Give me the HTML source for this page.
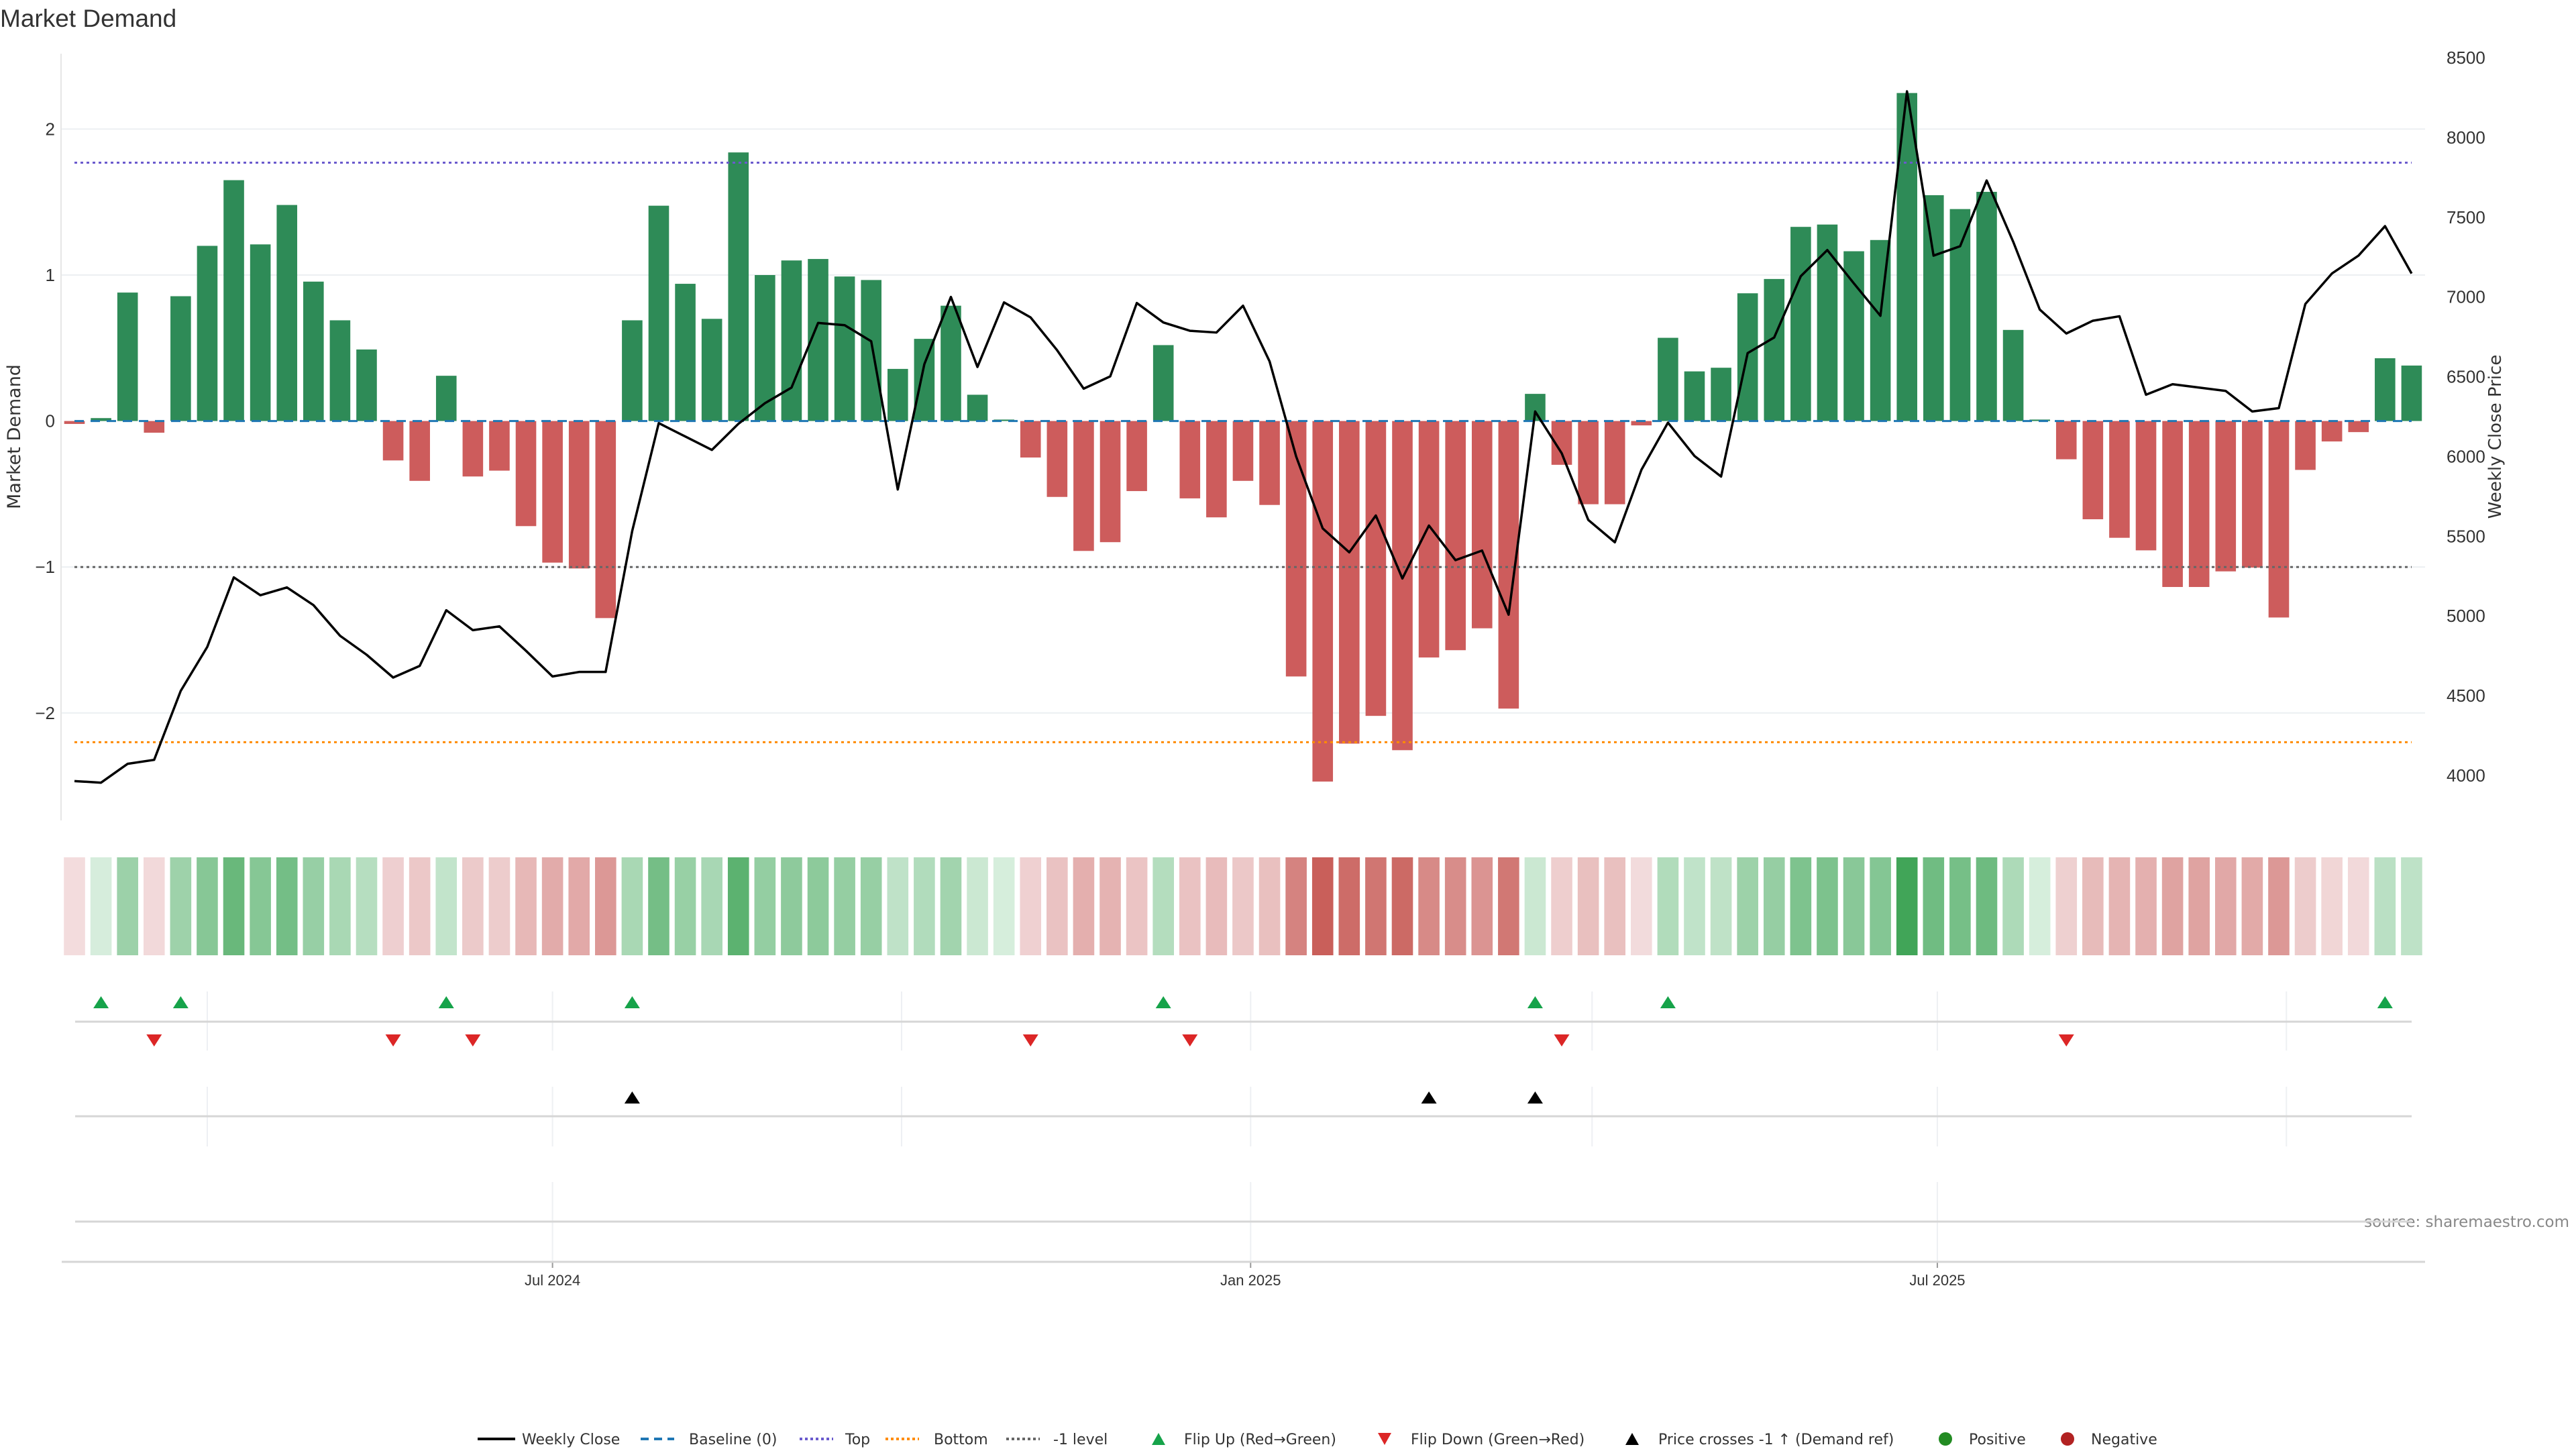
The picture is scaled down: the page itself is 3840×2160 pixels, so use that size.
<!DOCTYPE html>
<html><head><meta charset="utf-8"><title>Market Demand</title>
<style>
html,body{margin:0;padding:0;background:#fff;}
svg{display:block;}
text{font-family:"Liberation Sans","DejaVu Sans",sans-serif;}
</style></head>
<body>
<svg id="chart" xmlns="http://www.w3.org/2000/svg" width="3840" height="2160" viewBox="0 0 3840 2160">
<text x="0" y="40" font-size="37" fill="#333">Market Demand</text>
<text transform="translate(30,651) rotate(-90)" text-anchor="middle" font-size="27" fill="#333" style="font-family:'DejaVu Sans',sans-serif">Market Demand</text>
<text transform="translate(3728,651) rotate(-90)" text-anchor="middle" font-size="26" fill="#333" style="font-family:'DejaVu Sans',sans-serif">Weekly Close Price</text>
<text x="3830" y="1829" text-anchor="end" font-size="23" fill="#888" style="font-family:'DejaVu Sans',sans-serif">source: sharemaestro.com</text>
<g id="grid"></g><g id="bars"></g><g id="refs"></g><g id="priceg"></g><g id="axes"></g><g id="heat"></g><g id="markers"></g><g id="legend"></g>
</svg>
<script>
const demandValues=[-0.02,0.02,0.88,-0.08,0.855,1.20,1.65,1.21,1.48,0.955,0.69,0.49,-0.27,-0.41,0.31,-0.38,-0.34,-0.72,-0.97,-1.01,-1.35,0.69,1.475,0.94,0.70,1.84,1.00,1.10,1.11,0.99,0.966,0.357,0.563,0.79,0.18,0.01,-0.25,-0.52,-0.89,-0.83,-0.48,0.52,-0.53,-0.66,-0.41,-0.575,-1.75,-2.47,-2.21,-2.02,-2.255,-1.62,-1.57,-1.42,-1.97,0.186,-0.30,-0.57,-0.57,-0.03,0.57,0.34,0.365,0.875,0.973,1.33,1.346,1.163,1.24,2.247,1.547,1.452,1.57,0.624,0.01,-0.262,-0.673,-0.80,-0.886,-1.137,-1.137,-1.03,-1.004,-1.346,-0.335,-0.14,-0.076,0.43,0.38];
const weeklyClose=[3965,3955,4073,4098,4530,4806,5242,5130,5179,5068,4876,4757,4614,4687,5036,4911,4935,4782,4621,4649,4649,5532,6209,6125,6041,6205,6334,6432,6837,6823,6722,5793,6578,7000,6561,6966,6872,6666,6425,6502,6962,6840,6788,6777,6945,6596,6000,5549,5399,5630,5235,5567,5350,5410,5008,6282,6020,5602,5462,5916,6212,6003,5874,6648,6746,7130,7294,7085,6882,8289,7259,7318,7730,7346,6921,6771,6851,6879,6387,6453,6432,6411,6282,6303,6956,7147,7259,7444,7147];
const flipUpIdx=[1,4,14,21,41,55,60,87];
const flipDownIdx=[3,12,15,36,42,56,75];
const priceCrossIdx=[21,51,55];
const refTop=[1.77];
const refBottom=[-2.2];
const refLevel=[-1];
const leftTicks=[2,1,0,-1,-2];
const rightTicks=[4000,4500,5000,5500,6000,6500,7000,7500,8000,8500];
const majorTicks=["2024-07-01","2025-01-01","2025-07-01"];
const majorLabels=["Jul 2024","Jan 2025","Jul 2025"];
const minorTicks=["2024-04-01","2024-10-01","2025-04-01","2025-10-01"];
const startDate="2024-02-26";

const NS="http://www.w3.org/2000/svg";
function mk(parent,tag,attrs){const e=document.createElementNS(NS,tag);for(const k in attrs)e.setAttribute(k,attrs[k]);parent.appendChild(e);return e;}
const DAY=86400000, t0=Date.parse(startDate);
const PX_WEEK=39.59, X0=111;
function xDate(s){return X0+(Date.parse(s)-t0)/DAY/7*PX_WEEK;}
function xIdx(i){return X0+i*PX_WEEK;}
function yD(v){return 627.6-v*217.6;}
function yP(p){return 1156-(p-4000)*(1070/4500);}
const G=id=>document.getElementById(id);

// grid
const grid=G('grid');
leftTicks.forEach(v=>{ if(v===0) return;
  const l=mk(grid,'line',{x1:91,x2:3615,y1:yD(v),y2:yD(v),stroke:'#eceff2','stroke-width':2});
  
  
});
// axes
const ax=G('axes');
const al=mk(ax,'line',{x1:91,x2:91,y1:80,y2:1223,stroke:'#e6e6e6','stroke-width':2});


leftTicks.forEach(v=>{
  const t=mk(ax,'text',{x:82,y:yD(v)+9,'text-anchor':'end','font-size':26,fill:'#333'});
  t.textContent=v<0?'\u2212'+Math.abs(v):String(v);
  
  
});
rightTicks.forEach(v=>{
  const t=mk(ax,'text',{x:3647,y:yP(v)+9,'font-size':26,fill:'#333'});
  t.textContent=String(v);
  
  
});
// bars
const bars=G('bars');
demandValues.forEach((v,i)=>{
  const y0=yD(0),y1=yD(v);
  const r=mk(bars,'rect',{x:xIdx(i)-15.3,width:30.6,y:Math.min(y0,y1),height:Math.max(Math.abs(y1-y0),1),fill:v>=0?'#2e8b57':'#cd5c5c'});
  
  
});
// reference lines
const refs=G('refs');
function refLine(v,color,dash,name,w){
  const l=mk(refs,'line',{x1:X0,x2:xIdx(demandValues.length-1),y1:yD(v),y2:yD(v),stroke:color,'stroke-width':w||3,'stroke-dasharray':dash});
  
  
}
refLine(0,'#1f77b4','14,10','baseline-zero');
refTop.forEach(v=>refLine(v,'#6a5acd','4,5','top-line'));
refBottom.forEach(v=>refLine(v,'#ff8c00','4,5','bottom-line'));
refLevel.forEach(v=>refLine(v,'#666','4,5','minus-one-level'));
// price line
const pg=G('priceg');
const pl=mk(pg,'polyline',{points:weeklyClose.map((p,i)=>xIdx(i)+','+yP(p)).join(' '),fill:'none',stroke:'#000','stroke-width':3.5,'stroke-linejoin':'round'});


// heatmap strip
const heat=G('heat');
function mix(a,b,t){return 'rgb('+a.map((c,k)=>Math.round(c+(b[k]-c)*t)).join(',')+')';}
demandValues.forEach((v,i)=>{
  let col;
  if(v>=0) col=mix([215,238,221],[65,165,88],Math.min(v/2.25,1));
  else col=mix([243,221,222],[200,93,88],Math.min(-v/2.5,1));
  const r=mk(heat,'rect',{x:xIdx(i)-15.8,width:31.6,y:1278,height:146,fill:col});
  
  
});
// marker panels
const mg=G('markers');
minorTicks.forEach(d=>{
  [[1478,1566],[1620,1709]].forEach(([a,b])=>{
    const l=mk(mg,'line',{x1:xDate(d),x2:xDate(d),y1:a,y2:b,stroke:'#eef0f3','stroke-width':2});
    
    
  });
});
majorTicks.forEach((d,k)=>{
  [[1478,1566],[1620,1709],[1762,1881]].forEach(([a,b])=>{
    const l=mk(mg,'line',{x1:xDate(d),x2:xDate(d),y1:a,y2:b,stroke:'#eef0f3','stroke-width':2});
    
    
  });
  const tk=mk(mg,'line',{x1:xDate(d),x2:xDate(d),y1:1881,y2:1890,stroke:'#999','stroke-width':2});
  
  
  const t=mk(mg,'text',{x:xDate(d),y:1916,'text-anchor':'middle','font-size':22,fill:'#333'});
  t.textContent=majorLabels[k];
  
  
});
[1523,1664,1821].forEach(y=>{
  const l=mk(mg,'line',{x1:112,x2:3595,y1:y,y2:y,stroke:'#d6d6d6','stroke-width':3});
  
  
});
const xl=mk(mg,'line',{x1:92,x2:3615,y1:1881,y2:1881,stroke:'#d6d6d6','stroke-width':3});


function tri(g,cx,cy,up,color,w,h){
  const p=up?[[cx-w/2,cy+h/2],[cx+w/2,cy+h/2],[cx,cy-h/2]]:[[cx-w/2,cy-h/2],[cx+w/2,cy-h/2],[cx,cy+h/2]];
  return mk(g,'polygon',{points:p.map(q=>q.join(',')).join(' '),fill:color});
}
flipUpIdx.forEach(i=>{
  const m=tri(mg,xIdx(i),1494,true,'#16a34a',23,18);
  
  
});
flipDownIdx.forEach(i=>{
  const m=tri(mg,xIdx(i),1551,false,'#dc2626',23,18);
  
  
});
priceCrossIdx.forEach(i=>{
  const m=tri(mg,xIdx(i),1636,true,'#000',23,18);
  
  
});
// legend
const lg=G('legend');
const LY=2145;
function ltext(x,s){const t=mk(lg,'text',{x:x,y:LY+8,'font-size':22,fill:'#333'});t.style.fontFamily="'DejaVu Sans',sans-serif";t.textContent=s;return t;}
let e;
e=mk(lg,'line',{x1:712,x2:768,y1:LY,y2:LY,stroke:'#000','stroke-width':4});


e=ltext(778,'Weekly Close');


e=mk(lg,'line',{x1:955,x2:1005,y1:LY,y2:LY,stroke:'#1f77b4','stroke-width':4,'stroke-dasharray':'12,8'});


e=ltext(1027,'Baseline (0)');


e=mk(lg,'line',{x1:1192,x2:1242,y1:LY,y2:LY,stroke:'#6a5acd','stroke-width':4,'stroke-dasharray':'4,4'});


e=ltext(1260,'Top');


e=mk(lg,'line',{x1:1320,x2:1370,y1:LY,y2:LY,stroke:'#ff8c00','stroke-width':4,'stroke-dasharray':'4,4'});


e=ltext(1392,'Bottom');


e=mk(lg,'line',{x1:1500,x2:1550,y1:LY,y2:LY,stroke:'#666','stroke-width':4,'stroke-dasharray':'4,4'});


e=ltext(1570,'-1 level');


e=tri(lg,1727,LY,true,'#16a34a',20,18);


e=ltext(1765,'Flip Up (Red\u2192Green)');


e=tri(lg,2064,LY,false,'#dc2626',20,18);


e=ltext(2103,'Flip Down (Green\u2192Red)');


e=tri(lg,2433,LY,true,'#000',20,18);


e=ltext(2472,'Price crosses -1 \u2191 (Demand ref)');


e=mk(lg,'circle',{cx:2900,cy:LY,r:10,fill:'#228b22'});


e=ltext(2935,'Positive');


e=mk(lg,'circle',{cx:3082,cy:LY,r:10,fill:'#b22222'});


e=ltext(3117,'Negative');


</script>
</body></html>
